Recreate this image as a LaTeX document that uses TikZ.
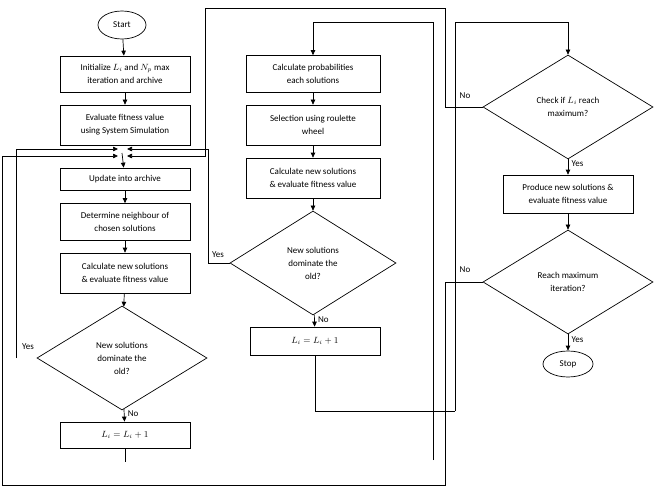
\documentclass[tikz,border=0pt]{standalone}
\usepackage{fontspec}
\setmainfont{Carlito}
\usetikzlibrary{shapes.geometric,arrows.meta}
\begin{document}
\begin{tikzpicture}[x=1pt,y=-1pt,
  box/.style={draw,minimum width=#1,align=center,font=\fontsize{9}{13}\selectfont,inner sep=2pt},
  box/.default=130pt,
  dia/.style={draw,diamond,aspect=1.63,minimum width=170pt,minimum height=104pt,align=center,inner sep=0pt,font=\fontsize{9}{13}\selectfont},
  term/.style={draw,ellipse,minimum width=48pt,minimum height=28pt,font=\fontsize{9}{12}\selectfont},
  lbl/.style={font=\fontsize{9}{10}\selectfont},
  ar/.style={-{Triangle[length=5pt,width=4.5pt]}},
  line width=0.7pt]
\useasboundingbox (0,0) rectangle (659,487);
% left column
\node[term] (start) at (122,25) {Start};
\node[box,minimum height=36pt] (b1) at (125,74) {Initialize $L_i$ and $N_p$ max\\iteration and archive};
\node[box,minimum height=40pt] (b2) at (125,125) {Evaluate fitness value\\using System Simulation};
\coordinate (m) at (122,153);
\node[box,minimum height=22pt] (b3) at (125,179) {Update into archive};
\node[box,minimum height=37pt] (b4) at (125,222) {Determine neighbour of\\chosen solutions};
\node[box,minimum height=40pt] (b5) at (125,273) {Calculate new solutions\\\& evaluate fitness value};
\node[dia] (d1) at (122,358) {New solutions\\dominate the\\old?};
\node[box,minimum height=26pt] (b6) at (125,435) {$L_i = L_i + 1$};
% middle column
\node[box,minimum height=37pt,minimum width=134pt] (c1) at (313,74) {Calculate probabilities\\each solutions};
\node[box,minimum height=40pt,minimum width=134pt] (c2) at (313,125) {Selection using roulette\\wheel};
\node[box,minimum height=40pt,minimum width=134pt] (c3) at (313,178) {Calculate new solutions\\\& evaluate fitness value};
\node[dia,minimum width=166pt] (d2) at (313,263) {New solutions\\dominate the\\old?};
\node[box,minimum height=28pt] (c4) at (315,341) {$L_i = L_i + 1$};
% right column
\node[dia] (d3) at (568,107) {Check if $L_i$ reach\\maximum?};
\node[box,minimum height=38pt] (r1) at (568,194) {Produce new solutions \&\\evaluate fitness value};
\node[dia] (d4) at (568,282) {Reach maximum\\iteration?};
\node[term,minimum width=50pt,minimum height=26pt] (stop) at (568,364) {Stop};
% straight arrows
\draw[ar] (start) -- (b1);
\draw[ar] (b1) -- (b2);
\draw[ar] (m) -- (b3);
\draw[ar] (b3) -- (b4);
\draw[ar] (b4) -- (b5);
\draw[ar] (b5) -- (d1);
\draw[ar] (d1) -- node[lbl,right,pos=0.4]{No} (b6);
\draw[ar] (c1) -- (c2);
\draw[ar] (c2) -- (c3);
\draw[ar] (c3) -- (d2);
\draw[ar] (d2) -- node[lbl,right,pos=0.4]{No} (c4);
\draw[ar] (d3) -- node[lbl,right,pos=0.3]{Yes} (r1);
\draw[ar] (r1) -- (d4);
\draw[ar] (d4) -- node[lbl,right,pos=0.3]{Yes} (stop);
% loops
\coordinate (a1) at (118,149); \coordinate (a2) at (118,156);
\coordinate (a3) at (127,149); \coordinate (a4) at (127,156);
\draw[ar] (16,358) -- (16,149) -- (a1);
\node[lbl] at (28,347) {Yes};
\draw[ar] (d4.west) -| (445,485) -| (2,156) -- (a2);
\node[lbl] at (465,270) {No};
\draw[ar] (d2.west) -| (208,149) -- (a3);
\node[lbl] at (218,255) {Yes};
\draw[ar] (d3.west) -| (445,8) -| (205,156) -- (a4);
\node[lbl] at (465,96) {No};
\draw (b6.south) -- ++(0,14);
\coordinate (q) at (433,460);
\draw[ar] (q) -- (433,22) -| (c1.north);
\draw (c4.south) |- (455,411) coordinate (p);
\draw[ar] (p) -- (455,22) -| (d3.north);
\end{tikzpicture}
\end{document}
